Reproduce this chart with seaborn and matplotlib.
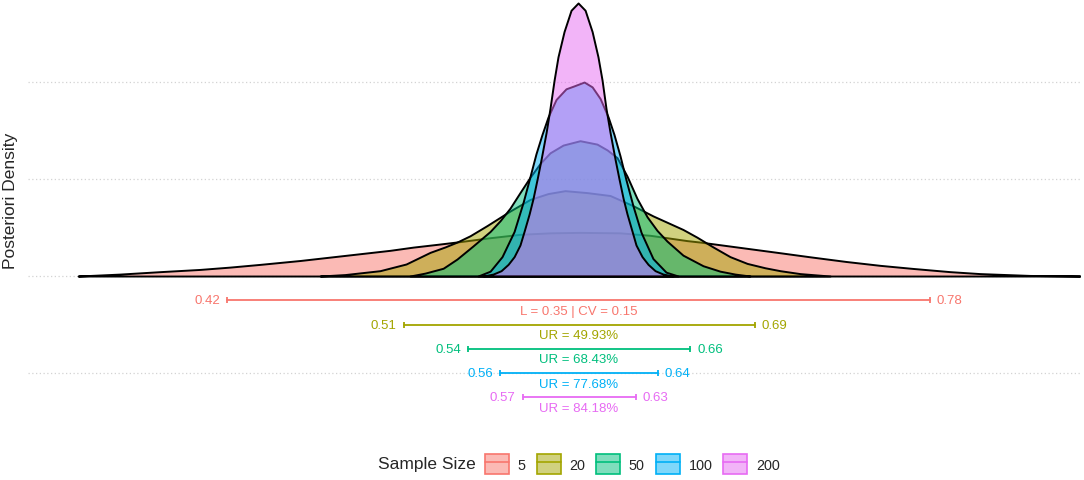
import matplotlib
matplotlib.use("Agg")
import numpy as np
import pandas as pd
import matplotlib.pyplot as plt
import seaborn as sns
from matplotlib.colors import to_rgba
from matplotlib.patches import Patch
from matplotlib.lines import Line2D
from matplotlib.legend_handler import HandlerTuple

# groups and ggplot hue colours
sizes = ["5", "20", "50", "100", "200"]
colors = ["#F8766D", "#A3A500", "#00BF7D", "#00B0F6", "#E76BF3"]

# posterior densities
x_5 = [0.3431, 0.3646, 0.3851, 0.4056, 0.4210, 0.4364, 0.4569, 0.4723, 0.4877, 0.5031,
       0.5149, 0.5287, 0.5390, 0.5544, 0.5697, 0.5851, 0.6005, 0.6210, 0.6364, 0.6554,
       0.6621, 0.6826, 0.7031, 0.7185, 0.7369, 0.7544, 0.7713, 0.7903, 0.8056, 0.8313, 0.8569]
d_5 = [0.0, 0.2, 0.45, 0.68, 0.92, 1.2, 1.6, 1.95, 2.3, 2.65,
       2.98, 3.3, 3.55, 3.95, 4.3, 4.45, 4.5, 4.45, 4.2, 3.65,
       3.5, 2.95, 2.4, 1.98, 1.5, 1.1, 0.78, 0.45, 0.25, 0.06, 0.0]

x_20 = [0.4672, 0.4800, 0.4979, 0.5113, 0.5236, 0.5313, 0.5374, 0.5441, 0.5528, 0.5646,
        0.5749, 0.5841, 0.5928, 0.6041, 0.6159, 0.6277, 0.6379, 0.6467, 0.6533, 0.6605,
        0.6687, 0.6774, 0.6862, 0.6954, 0.7031, 0.7133, 0.7287]
d_20 = [0.0, 0.15, 0.55, 1.24, 2.44, 3.0, 3.5, 4.15, 5.2, 6.7,
        7.9, 8.5, 8.8, 8.6, 8.3, 7.25, 6.2, 5.4, 4.8, 4.0,
        3.0, 2.0, 1.3, 0.85, 0.55, 0.25, 0.0]

x_50 = [0.5133, 0.5210, 0.5303, 0.5374, 0.5456, 0.5544, 0.5595, 0.5646, 0.5697, 0.5749,
        0.5800, 0.5851, 0.5918, 0.6005, 0.6092, 0.6144, 0.6195, 0.6246, 0.6297, 0.6349,
        0.6400, 0.6451, 0.6533, 0.6636, 0.6723, 0.6800, 0.6877]
d_50 = [0.0, 0.3, 0.8, 1.75, 3.1, 4.6, 5.7, 7.0, 8.6, 10.2,
        11.6, 12.7, 13.5, 13.95, 13.6, 13.0, 12.2, 10.3, 8.0, 6.1,
        4.7, 3.6, 2.15, 1.06, 0.5, 0.2, 0.0]

x_100 = [0.5482, 0.5544, 0.5605, 0.5667, 0.5713, 0.5749, 0.5779, 0.5810, 0.5841, 0.5882,
         0.5933, 0.5974, 0.6026, 0.6067, 0.6108, 0.6149, 0.6179, 0.6210, 0.6241, 0.6277,
         0.6318, 0.6379, 0.6446, 0.6508]
d_100 = [0.0, 0.5, 2.0, 4.6, 7.6, 10.3, 12.6, 14.6, 16.4, 18.2,
         19.3, 19.6, 20.0, 19.5, 18.3, 16.4, 14.6, 12.4, 9.9, 7.2,
         4.5, 1.8, 0.4, 0.0]

x_200 = [0.5508, 0.5559, 0.5600, 0.5636, 0.5667, 0.5697, 0.5718, 0.5744, 0.5764, 0.5785,
         0.5805, 0.5831, 0.5851, 0.5872, 0.5892, 0.5923, 0.5959, 0.5995, 0.6031, 0.6067,
         0.6097, 0.6118, 0.6138, 0.6159, 0.6185, 0.6205, 0.6226, 0.6246, 0.6272, 0.6292,
         0.6323, 0.6354, 0.6390, 0.6431, 0.6482]
d_200 = [0.0, 0.2, 0.55, 1.2, 2.0, 3.2, 4.6, 6.4, 8.0, 10.0,
         12.0, 14.8, 17.3, 20.2, 22.6, 25.2, 27.4, 28.15, 27.4, 25.2,
         22.6, 20.2, 17.3, 14.8, 12.0, 10.0, 8.0, 6.4, 4.6, 3.2,
         2.0, 1.2, 0.55, 0.2, 0.0]

# credible intervals and notes
ci_low = [0.4195, 0.5100, 0.5430, 0.5595, 0.5710]
ci_high = [0.7800, 0.6900, 0.6570, 0.6403, 0.6290]
ci_notes = ["L = 0.35 | CV = 0.15", "UR = 49.93%", "UR = 68.43%", "UR = 77.68%", "UR = 84.18%"]

xs = [x_5, x_20, x_50, x_100, x_200]
ds = [d_5, d_20, d_50, d_100, d_200]
curves = pd.concat([pd.DataFrame({"x": x, "density": d, "size": s})
                    for s, x, d in zip(sizes, xs, ds)], ignore_index=True)

sns.set_theme(style="white")
plt.rcParams["font.family"] = ["Liberation Sans", "DejaVu Sans"]

W, H = 1084, 481
fig = plt.figure(figsize=(W / 100, H / 100), dpi=100)
ax = fig.add_axes([28 / W, 1 - 420 / H, 1052 / W, 420 / H])

for i, (s, c) in enumerate(zip(sizes, colors)):
    g = curves[curves["size"] == s]
    ax.fill_between(g["x"], 0, g["density"], facecolor=to_rgba(c, 0.5),
                    edgecolor="black", linewidth=1.4, zorder=2 + i)

for i, (lo, hi, note, c) in enumerate(zip(ci_low, ci_high, ci_notes, colors)):
    yy = -2.5 * (i + 1)
    sns.lineplot(x=[lo, hi], y=[yy, yy], color=c, lw=1.3, marker="|", ms=5,
                 mew=1.3, mec=c, ax=ax, zorder=10)
    ax.annotate(f"{lo:.2f}", xy=(lo, yy), xytext=(-5, 0), textcoords="offset points",
                ha="right", va="center", color=c, fontsize=9.5)
    ax.annotate(f"{hi:.2f}", xy=(hi, yy), xytext=(5, 0), textcoords="offset points",
                ha="left", va="center", color=c, fontsize=9.5)
    ax.text((lo + hi) / 2, yy - 1.1, note, ha="center", va="center", color=c, fontsize=9.5)

ax.set_xlim(0.3174, 0.8569)
ax.set_ylim(-14.74, 28.56)
ax.set_xticks([])
ax.set_yticks([-10, 0, 10, 20])
ax.set_yticklabels([])
ax.tick_params(length=0)
ax.grid(axis="y", linestyle=(0, (1, 2)), color="#D3D3D3", linewidth=0.9)
ax.set_axisbelow(True)
ax.set_xlabel("")
ax.set_ylabel("")
for sp in ax.spines.values():
    sp.set_visible(False)

fig.text(11 / W, 1 - 201 / H, "Posteriori Density", rotation=90, ha="center",
         va="center", fontsize=12.5)

handles = [(Patch(facecolor=to_rgba(c, 0.5), edgecolor=c, linewidth=1.2),
            Line2D([], [], color=c, lw=1.2)) for c in colors]
fig.legend(handles, sizes, handler_map={tuple: HandlerTuple(ndivide=1)}, ncol=5,
           loc="center left", bbox_to_anchor=(485 / W, 1 - 465 / H), frameon=False,
           fontsize=10.4, handlelength=1.67, handleheight=1.67, handletextpad=0.6,
           columnspacing=0.75, borderpad=0, borderaxespad=0)
fig.text(378 / W, 1 - 465 / H, "Sample Size", ha="left", va="center", fontsize=12.5)

fig.savefig("out.png", dpi=100)
